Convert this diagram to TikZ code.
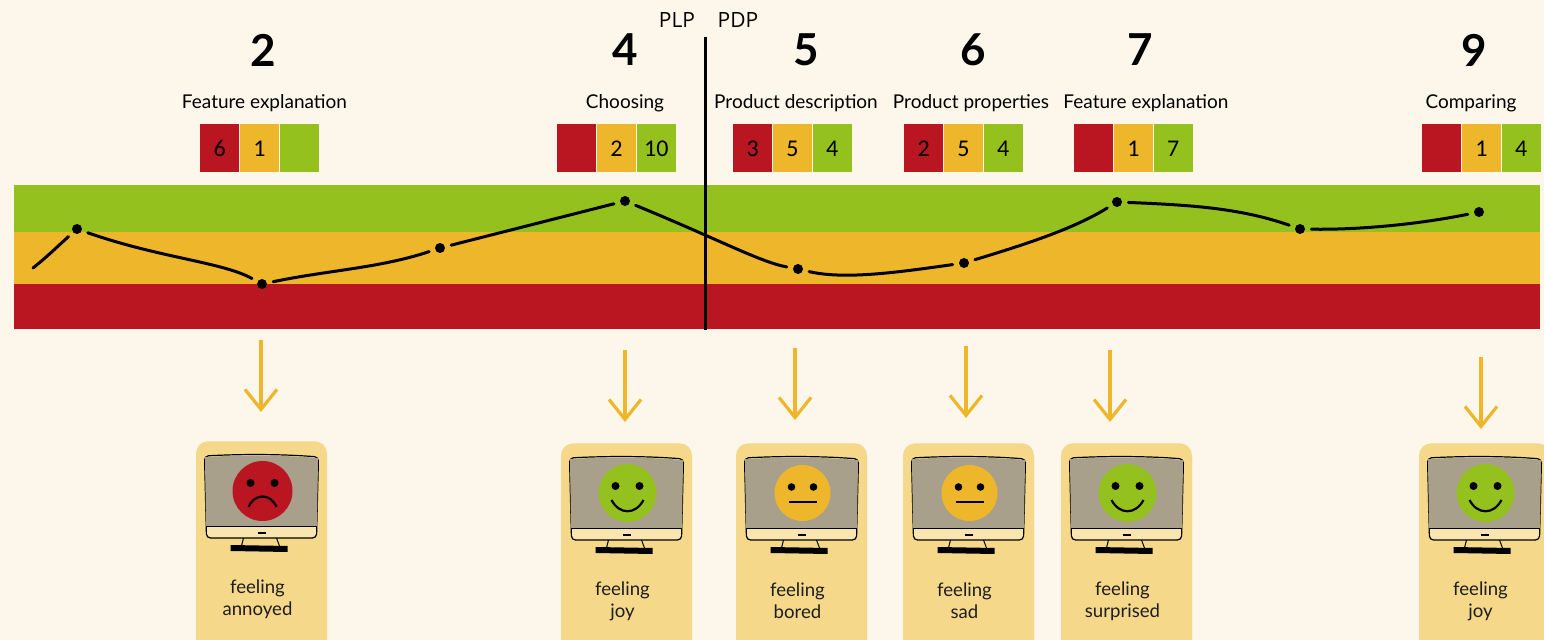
\documentclass[tikz,border=0pt]{standalone}
\usepackage{fontspec}
\setmainfont{Lato}
\newfontfamily\cellfont{Carlito}
\newfontfamily\tagfont{Open Sans}
\usetikzlibrary{positioning,arrows.meta}

\definecolor{paper}{HTML}{FDF6EA}
\definecolor{goodc}{HTML}{95C11F}
\definecolor{okc}{HTML}{EEB72B}
\definecolor{badc}{HTML}{BA1622}
\definecolor{cardc}{HTML}{F5D88A}
\definecolor{screenc}{HTML}{A8A08A}
\definecolor{bezelc}{HTML}{F8E6AE}
\definecolor{inkc}{HTML}{1E1E1E}

\tikzset{
  cell/.style={minimum width=19.5pt, minimum height=24pt, inner sep=0pt,
    font=\cellfont\fontsize{12}{14}\selectfont},
  stepnum/.style={font=\bfseries\fontsize{22}{26}\selectfont},
  steplabel/.style={font=\fontsize{9.5}{11}\selectfont},
  pagetag/.style={font=\tagfont\fontsize{10.5}{12}\selectfont},
  card/.style={fill=cardc, rounded corners=6pt, minimum width=65.5pt,
    minimum height=110pt, inner sep=0pt},
  feel/.style={align=center, text=inkc, font=\fontsize{9.3}{11}\selectfont},
  dot/.style={circle, fill=black, minimum size=5pt, inner sep=0pt},
  trend/.style={line width=1.5pt, line cap=round, shorten <=3pt, shorten >=3pt},
  arr/.style={draw=okc, line width=1.6pt, -{Straight Barb[length=10pt,width=16pt]}},
  % faces on the screens
  frown/.pic={
    \fill[badc] (0,0) circle (30);
    \fill (-12,-8) circle (4); \fill (12,-8) circle (4);
    \draw[line width=1.1pt] (-14,16) .. controls (-8,2) and (8,2) .. (14,16);
  },
  smile/.pic={
    \fill[goodc] (0,0) circle (29);
    \fill (-12,-7) circle (4); \fill (12,-7) circle (4);
    \draw[line width=1.1pt] (-16,7) .. controls (-8,22) and (8,22) .. (16,7);
  },
  flat/.pic={
    \fill[okc] (0,0) circle (28);
    \fill (-11,-6) circle (3.8); \fill (11,-6) circle (3.8);
    \draw[line width=1.1pt] (-14,9) -- (14,9);
  },
}

\begin{document}
\begin{tikzpicture}[x=0.5pt, y=-0.5pt]
  \fill[paper] (0,0) rectangle (1544,640);
  \clip (0,0) rectangle (1544,640);

  % mood bands
  \fill[goodc] (14,185) rectangle (1540,232);
  \fill[okc] (14,232) rectangle (1540,284);
  \fill[badc] (14,284) rectangle (1540,329);

  % list page / detail page split
  \draw[line width=1.5pt] (705,37) -- (705,330);
  \node[pagetag] (plp) at (677,20) {PLP};
  \node[pagetag] (pdp) at (738,20) {PDP};

  % steps with their scores
  \foreach \n/\nx/\lab/\lx/\bx/\r/\o/\g in {
      2/263/Feature explanation/264.5/259.5/6/1/{},
      4/625/Choosing/625/616.5/{}/2/10,
      5/806/Product description/796/792.5/3/5/4,
      6/973/Product properties/971/963.5/2/5/4,
      7/1140/Feature explanation/1146/1133.5/{}/1/7,
      9/1474/Comparing/1471/1481.5/{}/1/4} {
    \node[stepnum] (num\n) at (\nx,50) {\n};
    \node[steplabel] (lab\n) at (\lx,103) {\lab};
    \node[cell, fill=okc] (ok\n) at (\bx,148.5) {\o};
    \node[cell, fill=badc, left=0pt of ok\n] (bad\n) {\r};
    \node[cell, fill=goodc, right=0pt of ok\n] (good\n) {\g};
  }

  % journey line
  \coordinate (p0) at (33,268);
  \node[dot] (p1) at (77,229) {};
  \node[dot] (p2) at (262,284) {};
  \node[dot] (p3) at (440,248) {};
  \node[dot] (p4) at (625,201) {};
  \node[dot] (p5) at (798,269) {};
  \node[dot] (p6) at (964,263) {};
  \node[dot] (p7) at (1117,202) {};
  \node[dot] (p8) at (1300,229) {};
  \node[dot] (p9) at (1479,212) {};
  \draw[trend, shorten <=0pt] (p0) .. controls (48,256) and (58,246) .. (p1);
  \draw[trend] (p1) .. controls (160,258) and (222,262) .. (p2);
  \draw[trend] (p2) .. controls (330,270) and (380,268) .. (p3);
  \draw[trend] (p3) -- (p4);
  \draw[trend] (p4) .. controls (720,240) and (760,262) .. (p5);
  \draw[trend] (p5) .. controls (845,280) and (900,272) .. (p6);
  \draw[trend] (p6) .. controls (1030,243) and (1075,228) .. (p7);
  \draw[trend] (p7) .. controls (1190,205) and (1240,208) .. (p8);
  \draw[trend] (p8) .. controls (1360,230) and (1420,224) .. (p9);

  % arrows down to the cards
  \foreach \ax/\ay in {261/340, 625/350, 795/348, 966/346, 1110/350, 1481/357}
    \draw[arr] (\ax,\ay) -- ++(0,72);

  % cards with monitor and feeling
  \foreach \n/\cx/\ty/\face/\word in {
      2/261.5/441/frown/annoyed,
      4/626.5/443/smile/joy,
      5/801.5/443/flat/bored,
      6/968.5/443/flat/sad,
      7/1126.5/443/smile/surprised,
      9/1484.5/443/smile/joy} {
    \node[card, anchor=north] (card\n) at (\cx,\ty) {};
    \begin{scope}[shift={(card\n.north)}]
      \draw[fill=bezelc, line width=0.6pt, rounded corners=2pt]
        (-57,15) .. controls (-20,13) and (20,13) .. (57,16) -- (55,97) -- (-55,97) -- cycle;
      \fill[screenc] (-56.5,16) .. controls (-20,14) and (20,14) .. (56.5,17) -- (55.5,86) -- (-55.5,86) -- cycle;
      \draw[line width=0.5pt] (-55.5,86) -- (55.5,86);
      \draw[line width=0.6pt] (-4,92) -- (4,92);
      \draw[line width=0.5pt] (-18,97) -- (-20,105);
      \draw[line width=0.5pt] (15,97) -- (18,105);
      \fill (-31,104) -- (26,105) -- (26,111) -- (-31,110) -- cycle;
      \pic at (1,50) {\face};
      \node[feel] (feel\n) at (-4,158) {feeling\\\word};
    \end{scope}
  }
\end{tikzpicture}
\end{document}
